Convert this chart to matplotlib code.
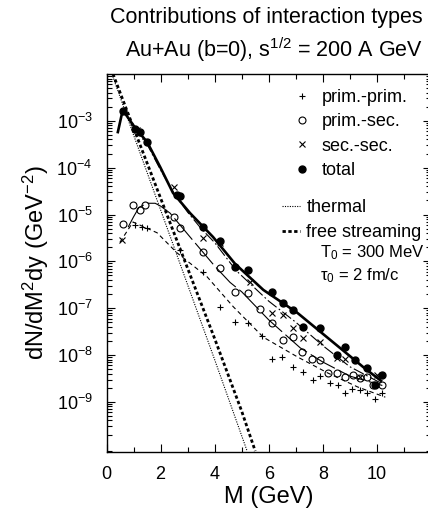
import numpy as np
import matplotlib
matplotlib.use("Agg")
import matplotlib.pyplot as plt
from matplotlib.lines import Line2D
from matplotlib.ticker import FixedLocator, LogLocator, NullFormatter, MultipleLocator

plt.rcParams['font.family'] = ['Liberation Sans', 'DejaVu Sans']
plt.rcParams['mathtext.fontset'] = 'custom'
plt.rcParams['mathtext.rm'] = 'Liberation Sans'
plt.rcParams['mathtext.it'] = 'Liberation Sans:italic'

# values, y given as log10
total_M = [0.61, 1.06, 1.24, 1.5, 2.61, 2.72, 3.57, 4.2, 4.76, 5.24, 6.13, 6.54, 6.91,
           7.28, 7.91, 8.54, 8.83, 9.2, 9.65, 9.94, 10.2]
total_lg = [-2.79, -3.17, -3.24, -3.45, -4.58, -4.61, -5.26, -5.56, -6.12, -6.18, -6.65,
            -6.89, -7.04, -7.40, -7.42, -8.0, -7.83, -8.11, -8.28, -8.64, -8.43]
total_fit_M = [0.42, 0.6, 1.06, 1.5, 1.98, 2.46, 3.09, 3.94, 4.75, 5.8, 7.06, 8.28, 9.5, 10.15]
total_fit_lg = [-3.24, -2.77, -3.15, -3.45, -3.98, -4.54, -4.97, -5.48, -6.05, -6.61,
                -7.10, -7.68, -8.26, -8.55]

pp_M = [1.06, 1.3, 1.5, 2.72, 3.57, 4.2, 4.76, 5.24, 5.76, 6.13, 6.5, 6.91, 7.28, 7.65,
        7.91, 8.28, 8.57, 8.83, 9.09, 9.39, 9.65, 9.94, 10.2]
pp_lg = [-5.22, -5.26, -5.29, -5.76, -6.23, -6.97, -7.29, -7.32, -7.59, -8.09, -8.04,
         -8.26, -8.36, -8.53, -8.45, -8.6, -8.64, -8.81, -8.73, -8.75, -8.81, -8.94, -8.81]
pp_fit_M = [0.5, 0.98, 1.87, 2.61, 3.72, 4.69, 5.8, 7.06, 8.17, 9.28, 10.31]
pp_fit_lg = [-5.59, -5.16, -5.39, -5.82, -6.33, -6.97, -7.62, -8.04, -8.38, -8.68, -8.9]

ps_M = [0.6, 0.98, 1.24, 1.42, 2.5, 2.72, 3.57, 4.2, 4.76, 5.24, 5.69, 6.13, 6.54, 6.91,
        7.24, 7.61, 7.91, 8.2, 8.54, 8.83, 9.13, 9.39, 9.65, 9.87, 10.2]
ps_lg = [-5.2, -4.79, -4.9, -4.8, -5.05, -5.29, -5.8, -6.14, -6.65, -6.68, -7.02, -7.32,
         -7.68, -7.62, -7.94, -8.09, -8.11, -8.38, -8.38, -8.47, -8.43, -8.49, -8.47,
         -8.64, -8.64]
ps_fit_M = [0.8, 1.0, 1.2, 1.5, 1.8, 2.0, 2.35, 3.09, 4.0, 4.57, 5.0, 6.0, 7.17, 8.0, 9.0, 10.2]
ps_fit_lg = [-5.27, -5.05, -4.85, -4.76, -4.76, -4.82, -4.97, -5.48, -6.1, -6.45, -6.65,
             -7.25, -7.85, -8.15, -8.45, -8.65]

ss_M = [0.57, 1.13, 2.5, 3.57, 4.2, 5.31, 6.13, 6.54, 6.91, 7.28, 7.91, 8.54, 8.83, 9.39, 10.0]
ss_lg = [-5.54, -3.19, -4.41, -5.5, -5.6, -6.44, -7.1, -7.15, -7.42, -7.64, -7.72, -8.06,
         -8.09, -8.47, -8.43]
ss_fit_M = [1.0, 1.5, 2.0, 2.5, 3.0, 3.5, 4.0, 4.8, 6.0, 7.0, 8.0, 9.0, 10.15]
ss_fit_lg = [-3.15, -3.5, -4.05, -4.55, -4.95, -5.3, -5.6, -6.2, -6.85, -7.3, -7.8, -8.25, -8.6]

thermal_M = [0.2, 1.0, 2.0, 3.0, 4.0, 5.2]
thermal_lg = [-2.0, -3.3, -4.9, -6.5, -8.1, -10.05]
free_M = [0.24, 1.0, 2.0, 3.0, 4.0, 5.0, 5.5]
free_lg = [-2.0, -3.15, -4.65, -6.15, -7.65, -9.2, -10.05]

y_major = [1e-3, 1e-4, 1e-5, 1e-6, 1e-7, 1e-8, 1e-9]
y_labels = [r'$\mathdefault{10^{-%d}}$' % k for k in range(3, 10)]
x_major = [0, 2, 4, 6, 8, 10]


def pw(v):
    return np.power(10.0, np.array(v))


W, H = 428, 514
fig = plt.figure(figsize=(W / 100, H / 100), dpi=100)
ax = fig.add_axes([106.5 / W, 1 - 452 / H, 324.5 / W, (452 - 74) / H])

ax.plot(thermal_M, pw(thermal_lg), color='k', lw=0.8, ls=(0, (1, 1.2)))
ax.plot(free_M, pw(free_lg), color='k', lw=2.0, ls=(0, (1.2, 0.9)))
ax.plot(total_fit_M, pw(total_fit_lg), color='k', lw=1.9)
ax.plot(ss_fit_M, pw(ss_fit_lg), color='k', lw=0.8, ls=(0, (10, 2.5, 1.5, 2.5)))
ax.plot(ps_fit_M, pw(ps_fit_lg), color='k', lw=0.8, ls=(0, (25, 4)))
ax.plot(pp_fit_M, pw(pp_fit_lg), color='k', lw=0.8, ls=(0, (4, 3)))

ax.plot(pp_M, pw(pp_lg), ls='none', marker='+', ms=5, mew=0.8, color='k')
ax.plot(ps_M, pw(ps_lg), ls='none', marker='o', ms=5, mew=0.8, mfc='none', mec='k')
ax.plot(ss_M, pw(ss_lg), ls='none', marker='x', ms=4.5, mew=0.8, color='k')
ax.plot(total_M, pw(total_lg), ls='none', marker='o', ms=5, color='k')

ax.set_yscale('log')
ax.set_xlim(0, 12)
ax.set_ylim(8.5e-11, 1e-2)
ax.yaxis.set_major_locator(FixedLocator(y_major))
ax.set_yticklabels(y_labels)
ax.yaxis.set_minor_locator(LogLocator(base=10, subs=np.arange(2, 10)))
ax.yaxis.set_minor_formatter(NullFormatter())
ax.xaxis.set_major_locator(FixedLocator(x_major))
ax.xaxis.set_minor_locator(MultipleLocator(1))
ax.tick_params(which='both', direction='in', top=True, right=True, width=0.8)
ax.tick_params(which='major', length=6, labelsize=13, pad=10)
ax.tick_params(which='minor', length=3.5)
for s in ax.spines.values():
    s.set_linewidth(1.0)

ax.set_xlabel('M (GeV)', fontsize=17, labelpad=2)
ax.set_ylabel(r'dN/dM$^{\mathdefault{2}}$dy (GeV$^{\mathdefault{-2}}$)', fontsize=17, labelpad=4)

fig.text(423 / W, 1 - 18 / H, 'Contributions of interaction types', fontsize=15.5,
         ha='right', va='center')
fig.text(423 / W, 1 - 50 / H, r'Au+Au (b=0), s$^{\mathdefault{1/2}}$ = 200 A GeV',
         fontsize=15.5, ha='right', va='center')

fs = 13
h1 = [Line2D([], [], ls='none', marker='+', ms=5, mew=0.8, color='k'),
      Line2D([], [], ls='none', marker='o', ms=5, mew=0.8, mfc='none', mec='k'),
      Line2D([], [], ls='none', marker='x', ms=4.5, mew=0.8, color='k'),
      Line2D([], [], ls='none', marker='o', ms=5, color='k')]
leg1 = ax.legend(h1, ['prim.-prim.', 'prim.-sec.', 'sec.-sec.', 'total'], loc='upper left',
                 bbox_to_anchor=(293 / W, 1 - 89 / H), bbox_transform=fig.transFigure,
                 frameon=False, fontsize=fs, handlelength=1.0, handletextpad=0.6,
                 labelspacing=0.41, borderpad=0, borderaxespad=0)
ax.add_artist(leg1)
h2 = [Line2D([], [], color='k', lw=0.8, ls=(0, (1, 1.2))),
      Line2D([], [], color='k', lw=2.0, ls=(0, (1.2, 0.9)))]
ax.legend(h2, ['thermal', 'free streaming'], loc='upper left',
          bbox_to_anchor=(282 / W, 1 - 199 / H), bbox_transform=fig.transFigure,
          frameon=False, fontsize=fs, handlelength=1.0, handletextpad=0.35,
          labelspacing=0.46, borderpad=0, borderaxespad=0)

fig.text(320 / W, 1 - 253 / H, r'T$_{\mathdefault{0}}$ = 300 MeV', fontsize=12, va='center')
fig.text(320 / W, 1 - 276 / H, r'τ$_{\mathdefault{0}}$ = 2 fm/c', fontsize=12, va='center')

fig.savefig('out.png', dpi=100)
